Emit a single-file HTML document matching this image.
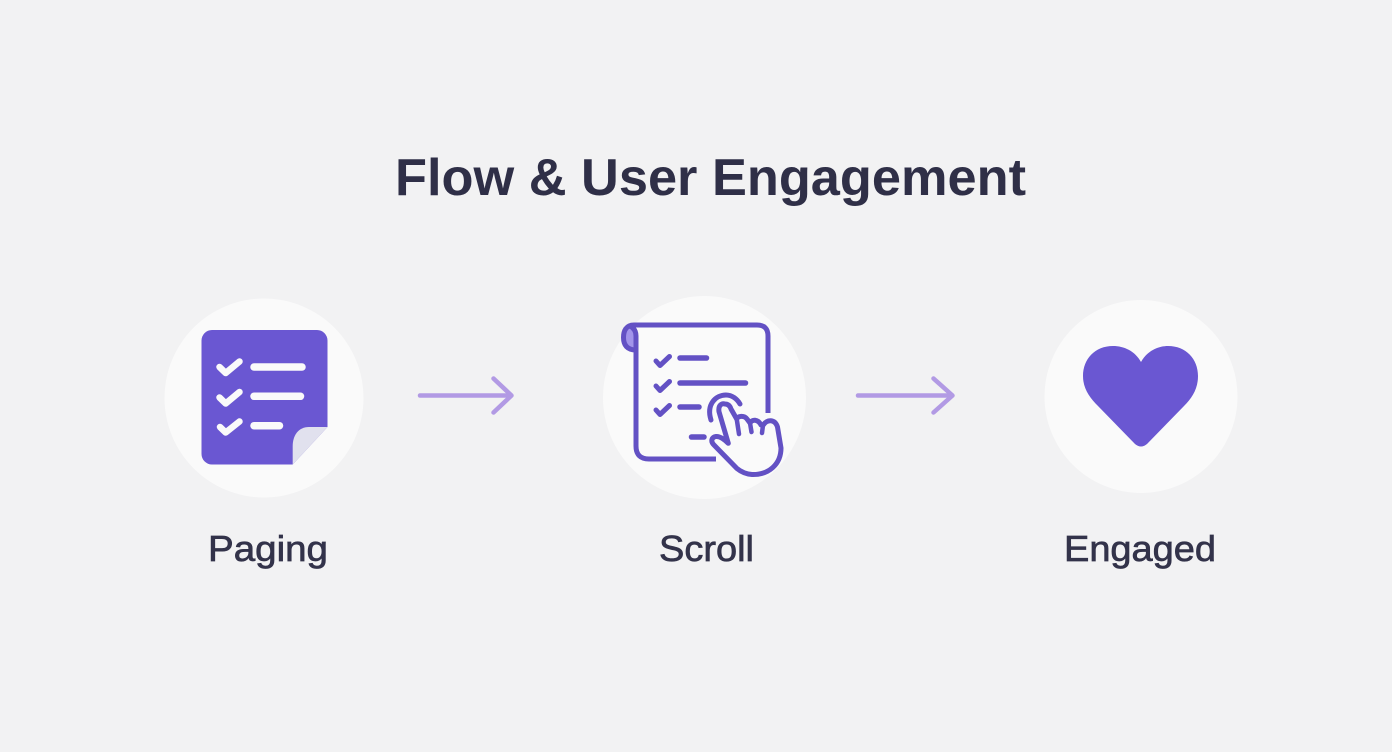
<!DOCTYPE html>
<html><head><meta charset="utf-8"><title>Flow &amp; User Engagement</title>
<style>html,body{margin:0;padding:0;width:1392px;height:752px;overflow:hidden;background:#f2f2f3}svg{display:block}</style>
</head><body>
<svg width="1392" height="752" viewBox="0 0 1392 752" xmlns="http://www.w3.org/2000/svg" font-family="'Liberation Sans',sans-serif">
<rect width="1392" height="752" fill="#f2f2f3"/>
<text x="395" y="195" font-size="52" font-weight="700" fill="#2f2f47" textLength="631" lengthAdjust="spacingAndGlyphs">Flow &amp; User Engagement</text>

<circle cx="264" cy="398" r="99.5" fill="#fafafa"/>
<circle cx="704.5" cy="397.5" r="101.5" fill="#fafafa"/>
<circle cx="1141" cy="396.5" r="96.5" fill="#fafafa"/>

<!-- Paging icon -->
<path d="M212 330H317a10.500 10.500 0 0 1 10.500 10.500V427L292.700 464.500H212a10.500 10.500 0 0 1-10.500-10.500V340.500A10.500 10.500 0 0 1 212 330Z" fill="#6a57d2"/>
<path d="M327.500 427H309C298 427 292.700 436 292.700 446V464.500Z" fill="#e1e1ee"/>
<g fill="none" stroke="#fafafa" stroke-width="6.500" stroke-linecap="round" stroke-linejoin="round">
<path d="M219.500 367L225.700 373L239.500 361.500"/>
<path d="M219.500 397.500L225.700 403.500L239.500 392"/>
<path d="M220 427L225.700 432.500L239.500 421.500"/>
</g>
<g fill="none" stroke="#fafafa" stroke-width="7.500" stroke-linecap="round">
<path d="M254 367H302"/><path d="M254 396.300H300.500"/><path d="M254 425.700H279.500"/>
</g>

<!-- Arrows -->
<g fill="none" stroke="#b29ae4" stroke-width="4.500" stroke-linecap="round" stroke-linejoin="round">
<path d="M420 395.500H511"/><path d="M493.500 378.500L511.500 395.500L493.500 412.500"/>
<path d="M858 395.500H952"/><path d="M933.500 378.500L952.500 395.500L933.500 412.500"/>
</g>

<!-- Scroll icon -->
<path d="M636 327C627 326 624 331 624 337C624 344 628 348 636 348Z" fill="#a294ea"/>
<g fill="none" stroke="#6351c4" stroke-linecap="round" stroke-linejoin="round">
<path d="M768 413V336Q768 325 757 325H634C626 325 623.500 331 623.500 337.500C623.500 345 627 350 636 350" stroke-width="5" stroke-linecap="butt"/>
<path d="M630 326C634 328 636 331 636 336V446Q636 459 649 459H716" stroke-width="5" stroke-linecap="butt"/>
<g stroke-width="5">
<path d="M656 361L660 365.500L669.500 356.500"/>
<path d="M656 386L660 390.500L669.500 381.500"/>
<path d="M656 410L660 414.500L669.500 405.500"/>
</g>
<g stroke-width="5.500">
<path d="M680 358H706.500"/><path d="M680 383H745.500"/><path d="M680 407H699"/><path d="M691.500 437H704"/>
</g>
<path d="M711 420C706 404 716 395 726 395C732 395 737 399 740 404" stroke-width="5"/>
<path d="M728.300 443.300L719 411.700C718 405 722 403 725 404C728 404 730 406 731 409L736.700 419C738 416 744 415 747 419L750 423C752 419 758 419 761 425L763.300 425C767 419 775 419 777.500 427L781 448C781 464 769 475 752 474.500C745 474 740 471 736.700 468.300L714 445C710 441 712 437 716 436.500C720 436 725 440 728.300 443.300Z" fill="#fafafa" stroke-width="5"/>
<path d="M736.700 419L739 434M750 423L751.500 432M763 425L762 433" stroke-width="4.500"/>
</g>

<!-- Heart -->
<path d="M1141 362C1135 351 1124 346 1113 346C1095 346 1083 359 1083 376C1083 389 1090 398 1098 406L1135 444Q1141 449 1147 444L1184 406C1192 398 1198 389 1198 376C1198 359 1186 346 1168 346C1158 346 1147 351 1141 362Z" fill="#6a57d2"/>

<!-- Labels -->
<g font-size="36" fill="#33334a" stroke="#33334a" stroke-width=".7">
<text x="208" y="561" textLength="120" lengthAdjust="spacingAndGlyphs">Paging</text>
<text x="659" y="561" textLength="95" lengthAdjust="spacingAndGlyphs">Scroll</text>
<text x="1064" y="561" textLength="152" lengthAdjust="spacingAndGlyphs">Engaged</text>
</g>
</svg>
</body></html>
